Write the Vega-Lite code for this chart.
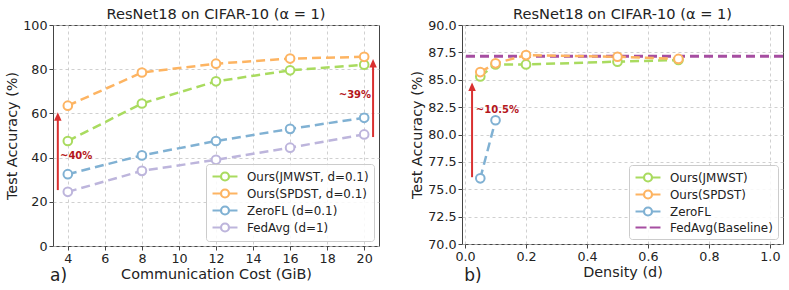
{
  "$schema": "https://vega.github.io/schema/vega-lite/v6.json",
  "padding": {"left": 4, "top": 6, "right": 2, "bottom": 0},
  "spacing": 29,
  "resolve": {"scale": {"color": "independent", "shape": "independent"}, "legend": {"color": "independent", "shape": "independent"}},
  "config": {
    "font": "DejaVu Sans",
    "view": {"stroke": "#444", "strokeWidth": 1},
    "title": {"font": "DejaVu Sans", "fontSize": 14.6, "fontWeight": "normal", "color": "#222", "offset": -3},
    "axis": {
      "grid": true, "gridDash": [3, 3], "gridColor": "#c4c4c4", "gridWidth": 0.8,
      "domain": false, "tickColor": "#444", "tickSize": 4, "labelPadding": 2,
      "labelFont": "DejaVu Sans", "labelFontSize": 12.7, "labelColor": "#222",
      "titleFont": "DejaVu Sans", "titleFontSize": 14.4, "titleFontWeight": "normal", "titleColor": "#222", "titlePadding": 3
    },
    "legend": {
      "orient": "bottom-right", "offset": 5, "title": null,
      "symbolSize": 144, "symbolOffset": 6.5, "symbolStrokeWidth": 2.2, "symbolOpacity": 1,
      "labelFont": "DejaVu Sans", "labelFontSize": 11.9, "labelColor": "#222", "labelOffset": 14.5,
      "strokeColor": "#cccccc", "fillColor": "rgba(255,255,255,0.85)", "cornerRadius": 3,
      "padding": 5, "rowPadding": 0
    }
  },
  "datasets": {
    "left": [
      {"series": "Ours(JMWST, d=0.1)", "x": 4, "y": 47.5},
      {"series": "Ours(JMWST, d=0.1)", "x": 8, "y": 64.5},
      {"series": "Ours(JMWST, d=0.1)", "x": 12, "y": 74.5},
      {"series": "Ours(JMWST, d=0.1)", "x": 16, "y": 79.5},
      {"series": "Ours(JMWST, d=0.1)", "x": 20, "y": 82},
      {"series": "Ours(SPDST, d=0.1)", "x": 4, "y": 63.5},
      {"series": "Ours(SPDST, d=0.1)", "x": 8, "y": 78.5},
      {"series": "Ours(SPDST, d=0.1)", "x": 12, "y": 82.5},
      {"series": "Ours(SPDST, d=0.1)", "x": 16, "y": 84.8},
      {"series": "Ours(SPDST, d=0.1)", "x": 20, "y": 85.6},
      {"series": "ZeroFL (d=0.1)", "x": 4, "y": 32.5},
      {"series": "ZeroFL (d=0.1)", "x": 8, "y": 41},
      {"series": "ZeroFL (d=0.1)", "x": 12, "y": 47.5},
      {"series": "ZeroFL (d=0.1)", "x": 16, "y": 53},
      {"series": "ZeroFL (d=0.1)", "x": 20, "y": 58},
      {"series": "FedAvg (d=1)", "x": 4, "y": 24.5},
      {"series": "FedAvg (d=1)", "x": 8, "y": 34},
      {"series": "FedAvg (d=1)", "x": 12, "y": 39},
      {"series": "FedAvg (d=1)", "x": 16, "y": 44.5},
      {"series": "FedAvg (d=1)", "x": 20, "y": 50.5}
    ],
    "right": [
      {"series": "Ours(JMWST)", "x": 0.05, "y": 85.3},
      {"series": "Ours(JMWST)", "x": 0.1, "y": 86.4},
      {"series": "Ours(JMWST)", "x": 0.2, "y": 86.4},
      {"series": "Ours(JMWST)", "x": 0.5, "y": 86.65},
      {"series": "Ours(JMWST)", "x": 0.7, "y": 86.8},
      {"series": "Ours(SPDST)", "x": 0.05, "y": 85.7},
      {"series": "Ours(SPDST)", "x": 0.1, "y": 86.5},
      {"series": "Ours(SPDST)", "x": 0.2, "y": 87.25},
      {"series": "Ours(SPDST)", "x": 0.5, "y": 87.1},
      {"series": "Ours(SPDST)", "x": 0.7, "y": 86.9},
      {"series": "ZeroFL", "x": 0.05, "y": 76.0},
      {"series": "ZeroFL", "x": 0.1, "y": 81.3}
    ],
    "baseline": [{"series": "FedAvg(Baseline)", "y": 87.15}],
    "arrowsLeft": [
      {"x": 3.46, "y": 25.3, "y2": 58.3},
      {"x": 20.48, "y": 49.3, "y2": 82.4}
    ],
    "labelsLeft": [
      {"x": 4.45, "y": 40.5, "label": "~40%"},
      {"x": 19.5, "y": 68.3, "label": "~39%"}
    ],
    "arrowsRight": [{"x": 0.023, "y": 76.1, "y2": 84.3}],
    "labelsRight": [{"x": 0.106, "y": 82.27, "label": "~10.5%"}],
    "panelLeft": [{"x": 3.5, "y": -16, "label": "a)"}],
    "panelRight": [{"x": 0.026, "y": 66.6, "label": "b)"}]
  },
  "hconcat": [
    {
      "width": 326, "height": 221,
      "title": "ResNet18 on CIFAR-10 (α = 1)",
      "resolve": {"legend": {"color": "independent", "shape": "independent"}},
      "encoding": {
        "x": {"field": "x", "type": "quantitative", "scale": {"domain": [3.2, 20.8], "nice": false, "zero": false},
              "axis": {"values": [4, 6, 8, 10, 12, 14, 16, 18, 20], "title": "Communication Cost (GiB)"}},
        "y": {"field": "y", "type": "quantitative", "scale": {"domain": [0, 100], "nice": false},
              "axis": {"values": [0, 20, 40, 60, 80, 100], "title": "Test Accuracy (%)"}}
      },
      "layer": [
        {
          "data": {"name": "left"},
          "mark": {"type": "line", "strokeDash": [9, 5], "strokeWidth": 2.5},
          "encoding": {
            "color": {"field": "series", "type": "nominal", "legend": null,
              "scale": {"domain": ["Ours(JMWST, d=0.1)", "Ours(SPDST, d=0.1)", "ZeroFL (d=0.1)", "FedAvg (d=1)"],
                        "range": ["#a9db5f", "#fdb462", "#80b1d3", "#bdb5dc"]}}
          }
        },
        {
          "data": {"name": "left"},
          "mark": {"type": "point", "filled": false, "fill": "white", "size": 75, "strokeWidth": 2, "opacity": 1},
          "encoding": {"color": {"field": "series", "type": "nominal", "legend": null}}
        },
        {
          "data": {"name": "left"},
          "transform": [{"filter": "datum.y > 1000"}],
          "mark": {"type": "point", "filled": false, "fill": "white", "strokeWidth": 2.2},
          "encoding": {
            "color": {"field": "series", "type": "nominal", "legend": {"title": null}},
            "shape": {"field": "series", "type": "nominal", "legend": {"title": null},
              "scale": {"domain": ["Ours(JMWST, d=0.1)", "Ours(SPDST, d=0.1)", "ZeroFL (d=0.1)", "FedAvg (d=1)"],
                        "range": [
                          "M-2.08,0L-0.667,0M0.667,0L2.08,0M0.667,0A0.667,0.667,0,1,1,-0.667,0A0.667,0.667,0,1,1,0.667,0",
                          "M-2.08,0L-0.667,0M0.667,0L2.08,0M0.667,0A0.667,0.667,0,1,1,-0.667,0A0.667,0.667,0,1,1,0.667,0",
                          "M-2.08,0L-0.667,0M0.667,0L2.08,0M0.667,0A0.667,0.667,0,1,1,-0.667,0A0.667,0.667,0,1,1,0.667,0",
                          "M-2.08,0L-0.667,0M0.667,0L2.08,0M0.667,0A0.667,0.667,0,1,1,-0.667,0A0.667,0.667,0,1,1,0.667,0"
                        ]}}
          }
        },
        {
          "data": {"name": "arrowsLeft"},
          "mark": {"type": "rule", "color": "#d93030", "strokeWidth": 2},
          "encoding": {"y2": {"field": "y2"}}
        },
        {
          "data": {"name": "arrowsLeft"},
          "mark": {"type": "point", "filled": true, "color": "#d93030", "opacity": 1, "size": 100, "shape": "M0,-1L-0.75,0.7L0.75,0.7Z"},
          "encoding": {"y": {"field": "y2", "type": "quantitative"}}
        },
        {
          "data": {"name": "labelsLeft"},
          "mark": {"type": "text", "color": "#b5171c", "fontWeight": "bold", "fontSize": 10, "align": "center", "baseline": "middle"},
          "encoding": {"text": {"field": "label"}}
        },
        {
          "data": {"name": "panelLeft"},
          "mark": {"type": "text", "color": "#222", "fontSize": 17, "align": "center", "baseline": "alphabetic"},
          "encoding": {"text": {"field": "label"}}
        }
      ]
    },
    {
      "width": 321, "height": 219,
      "title": "ResNet18 on CIFAR-10 (α = 1)",
      "resolve": {"legend": {"color": "independent", "shape": "independent"}},
      "encoding": {
        "x": {"field": "x", "type": "quantitative", "scale": {"domain": [-0.01, 1.043], "nice": false, "zero": false},
              "axis": {"values": [0, 0.2, 0.4, 0.6, 0.8, 1.0], "format": ".1f", "title": "Density (d)"}},
        "y": {"field": "y", "type": "quantitative", "scale": {"domain": [70, 90], "nice": false, "zero": false},
              "axis": {"values": [70, 72.5, 75, 77.5, 80, 82.5, 85, 87.5, 90], "format": ".1f", "title": "Test Accuracy (%)"}}
      },
      "layer": [
        {
          "data": {"name": "baseline"},
          "mark": {"type": "rule", "strokeDash": [9, 5], "strokeWidth": 3},
          "encoding": {
            "x": null,
            "color": {"field": "series", "type": "nominal", "legend": null,
              "scale": {"domain": ["Ours(JMWST)", "Ours(SPDST)", "ZeroFL", "FedAvg(Baseline)"],
                        "range": ["#a9db5f", "#fdb462", "#80b1d3", "#a64ea1"]}}
          }
        },
        {
          "data": {"name": "right"},
          "mark": {"type": "line", "strokeDash": [9, 5], "strokeWidth": 2.5},
          "encoding": {"color": {"field": "series", "type": "nominal", "legend": null}}
        },
        {
          "data": {"name": "right"},
          "mark": {"type": "point", "filled": false, "fill": "white", "size": 75, "strokeWidth": 2, "opacity": 1},
          "encoding": {"color": {"field": "series", "type": "nominal", "legend": null}}
        },
        {
          "data": {"name": "right"},
          "transform": [{"filter": "datum.y > 1000"}],
          "mark": {"type": "point", "filled": false, "fill": "white", "strokeWidth": 2.2},
          "encoding": {
            "color": {"field": "series", "type": "nominal", "legend": {"title": null}},
            "shape": {"field": "series", "type": "nominal", "legend": {"title": null},
              "scale": {"domain": ["Ours(JMWST)", "Ours(SPDST)", "ZeroFL", "FedAvg(Baseline)"],
                        "range": [
                          "M-2.08,0L-0.667,0M0.667,0L2.08,0M0.667,0A0.667,0.667,0,1,1,-0.667,0A0.667,0.667,0,1,1,0.667,0",
                          "M-2.08,0L-0.667,0M0.667,0L2.08,0M0.667,0A0.667,0.667,0,1,1,-0.667,0A0.667,0.667,0,1,1,0.667,0",
                          "M-2.08,0L-0.667,0M0.667,0L2.08,0M0.667,0A0.667,0.667,0,1,1,-0.667,0A0.667,0.667,0,1,1,0.667,0",
                          "M-2.08,0L-0.25,0M0.29,0L2.08,0"
                        ]}}
          }
        },
        {
          "data": {"name": "arrowsRight"},
          "mark": {"type": "rule", "color": "#d93030", "strokeWidth": 2},
          "encoding": {"y2": {"field": "y2"}}
        },
        {
          "data": {"name": "arrowsRight"},
          "mark": {"type": "point", "filled": true, "color": "#d93030", "opacity": 1, "size": 100, "shape": "M0,-1L-0.75,0.7L0.75,0.7Z"},
          "encoding": {"y": {"field": "y2", "type": "quantitative"}}
        },
        {
          "data": {"name": "labelsRight"},
          "mark": {"type": "text", "color": "#b5171c", "fontWeight": "bold", "fontSize": 10, "align": "center", "baseline": "middle"},
          "encoding": {"text": {"field": "label"}}
        },
        {
          "data": {"name": "panelRight"},
          "mark": {"type": "text", "color": "#222", "fontSize": 17, "align": "center", "baseline": "alphabetic"},
          "encoding": {"text": {"field": "label"}}
        }
      ]
    }
  ]
}
